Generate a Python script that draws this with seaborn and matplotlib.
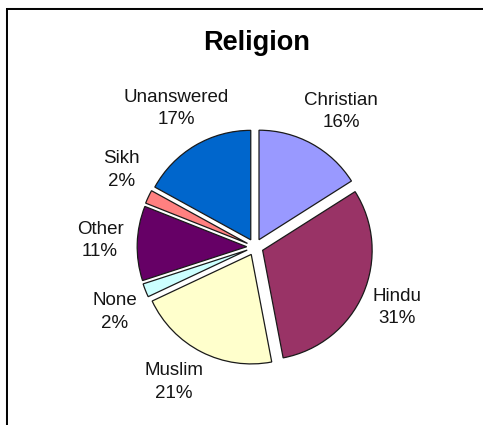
import matplotlib
matplotlib.use("Agg")
import matplotlib.pyplot as plt
import seaborn as sns
import numpy as np

# Survey answers, share of respondents in percent
religions = ["Christian", "Hindu", "Muslim", "None", "Other", "Sikh", "Unanswered"]
shares = [16, 31, 21, 2, 11, 2, 17]
colors = ["#9999FF", "#993366", "#FFFFCC", "#CCFFFF", "#660066", "#FF8080", "#0066CC"]

# label placement: distance from centre (in radii) and small angular nudge (deg)
label_dist = [1.466, 1.41, 1.44, 1.41, 1.416, 1.41, 1.456]
label_nudge = [-3.6, 0.3, -3.9, 3.3, -0.6, -4.7, -0.9]

sns.set_theme(style="white")
plt.rcParams["font.family"] = ["Liberation Sans", "DejaVu Sans"]

W, H = 483, 425
fig = plt.figure(figsize=(W / 100, H / 100), dpi=100)
fig.patch.set_facecolor("white")
ax = fig.add_axes([0, 0, 1, 1])

cx, cy, R = 255, H - 247, 109.5
explode_frac = 0.076  # every slice pulled out by the same fraction of the radius
wedges, _ = ax.pie(
    shares,
    colors=colors,
    startangle=90,
    counterclock=False,
    explode=[explode_frac * R] * len(shares),
    radius=R,
    center=(cx, cy),
    wedgeprops=dict(edgecolor="#1a1a1a", linewidth=0.9),
)
ax.set_xlim(0, W)
ax.set_ylim(0, H)
ax.set_aspect("equal")
ax.axis("off")

for w, name, val, d, nudge in zip(wedges, religions, shares, label_dist, label_nudge):
    mid = np.deg2rad((w.theta1 + w.theta2) / 2 + nudge)
    x = cx + d * R * np.cos(mid)
    y = cy + d * R * np.sin(mid)
    ax.text(x, y, f"{name}\n{val}%", ha="center", va="center",
            fontsize=13.5, linespacing=1.45, color="#151515")

fig.text(257 / W, 1 - 50 / H, "Religion", ha="center", va="baseline",
         fontsize=19.5, fontweight="bold", color="#000000")

# chart-area frame (top and left edges)
ax.plot([5.8, 5.8], [0, H - 7.8], color="#9a9a9a", lw=0.8, solid_capstyle="butt")
ax.plot([5.8, W], [H - 7.8, H - 7.8], color="#9a9a9a", lw=0.8, solid_capstyle="butt")
ax.plot([7.2, 7.2], [0, H - 9.2], color="#000000", lw=1.4, solid_capstyle="projecting")
ax.plot([7.2, W], [H - 9.2, H - 9.2], color="#000000", lw=1.4, solid_capstyle="projecting")

fig.savefig("out.png", dpi=100, facecolor="white")
